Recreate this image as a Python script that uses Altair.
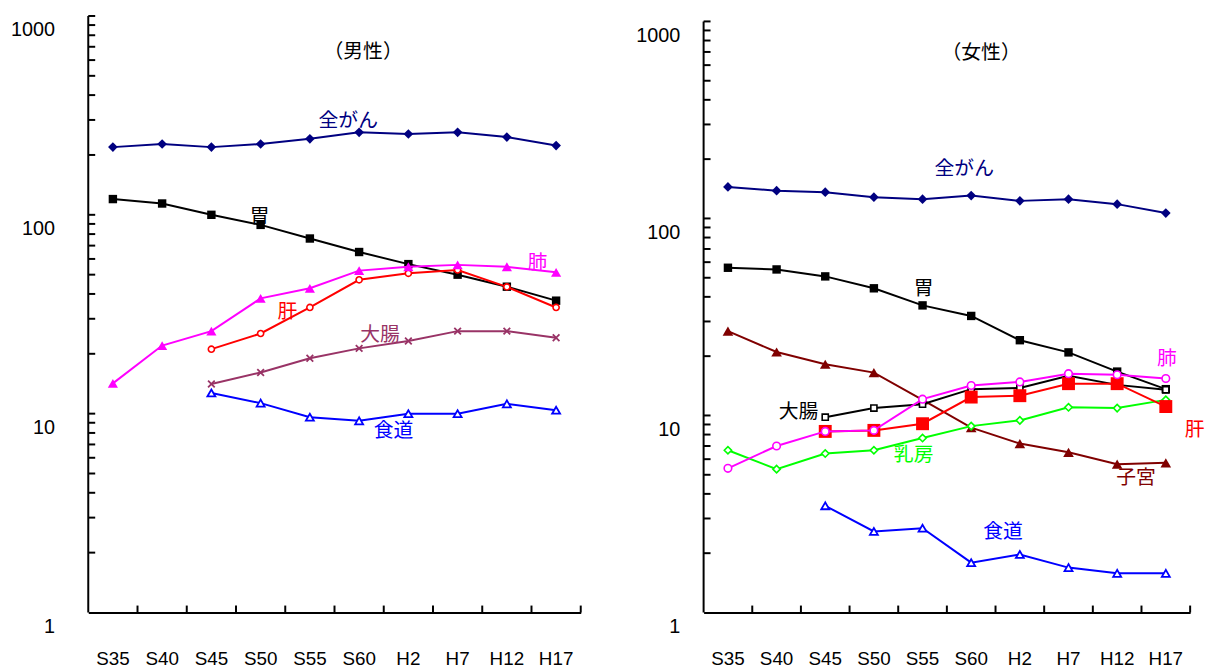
import altair as alt
import pandas as pd

cats = ["S35", "S40", "S45", "S50", "S55", "S60", "H2", "H7", "H12", "H17"]

# ---- male series (age-adjusted mortality, log scale) ----
m_all = [219, 227, 219, 227, 241, 260, 255, 260, 246, 223]
m_stomach = [120, 114, 100, 89, 76, 65, 56.5, 50, 43.5, 37]
m_lung = [14.2, 22, 26, 38, 42.7, 52.4, 54.8, 56, 54.8, 51.4]
m_liver = [None, None, 21.1, 25.3, 34.2, 47.1, 50.8, 52.8, 43.4, 34.2]
m_colon = [None, None, 14.1, 16.1, 19.0, 21.3, 23.2, 26.0, 26.0, 24.1]
m_esoph = [None, None, 12.7, 11.3, 9.6, 9.2, 10.0, 10.0, 11.2, 10.4]

# ---- female series ----
f_all = [144.5, 138.4, 135.9, 128.2, 125.3, 130.6, 122.8, 125.3, 118.2, 106.5]
f_stomach = [56.2, 55.1, 50.8, 44.2, 36.2, 32.0, 24.1, 20.9, 16.7, 13.6]
f_uterus = [26.8, 21.0, 18.2, 16.5, 12.0, 8.67, 7.2, 6.5, 5.66, 5.75]
f_colon = [None, None, 9.8, 10.9, 11.4, 13.6, 13.8, 15.9, 14.3, 13.5]
f_lung = [5.39, 7.0, 8.3, 8.4, 12.1, 14.2, 14.8, 16.3, 16.1, 15.4]
f_liver = [None, None, 8.3, 8.4, 9.08, 12.4, 12.6, 14.5, 14.5, 11.1]
f_breast = [6.66, 5.34, 6.41, 6.66, 7.68, 8.83, 9.44, 11.0, 10.9, 12.0]
f_esoph = [None, None, 3.48, 2.58, 2.68, 1.79, 1.97, 1.69, 1.58, 1.58]

# ---- annotation labels (text, anchor category, anchor value) ----
m_label_text = ["（男性）", "全がん", "胃", "肺", "肝", "大腸", "食道"]
m_label_cat = ["S60", "S60", "S50", "H17", "S50", "S60", "H2"]
m_label_val = [661, 296, 97.3, 57.1, 32.6, 24.8, 8.16]

f_label_text = ["（女性）", "全がん", "胃", "肺", "大腸", "乳房", "肝", "子宮", "食道"]
f_label_cat = ["S60", "S60", "S55", "H17", "S45", "S55", "H17", "H12", "H2"]
f_label_val = [694, 178.7, 44.0, 19.3, 10.4, 6.29, 8.4, 4.8, 2.56]

y_tick_values = [v * d for d in (1, 10, 100) for v in range(2, 10)] + [10, 100, 1000]
y_label_values = [1, 10, 100, 1000]
y_axis_span = [1, 1000]

NAVY = "#000080"
MAG = "#FF00FF"
RED = "#FF0000"
PURPLE = "#993366"
BLUE = "#0000FF"
DRED = "#800000"
GREEN = "#00FF00"
XPATH = "M-1,-1L1,1M-1,1L1,-1"

LATIN = "Liberation Sans"
CJK = "Noto Sans CJK JP"


def make_panel(series, lab_text, lab_cat, lab_val, lab_styles, width, height,
               ylabpad, ymax):
    xscale = alt.Scale(type="band", domain=cats, paddingInner=0, paddingOuter=0)
    yscale = alt.Scale(type="log", domain=[1, ymax], nice=False)
    xaxis = alt.Axis(title=None, labelAngle=0, ticks=False, grid=False,
                     domainColor="black", domainWidth=2, labelFontSize=19,
                     labelFont=LATIN, labelColor="black", labelPadding=37)
    yaxis = alt.Axis(title=None, values=y_label_values, format="d", ticks=False,
                     grid=False, domain=False,
                     labelFontSize=20, labelFont=LATIN, labelColor="black",
                     labelPadding=ylabpad, labelOffset=14)

    def X(band=0.5):
        return alt.X("cat:N", sort=cats, scale=xscale, axis=xaxis, bandPosition=band)

    def Y(field="v"):
        return alt.Y(f"{field}:Q", scale=yscale, axis=yaxis)

    layers = []
    # y axis line spanning 1..1000
    adf = pd.DataFrame({"a": [y_axis_span[0]], "b": [y_axis_span[1]]})
    layers.append(alt.Chart(adf).mark_rule(color="black", strokeWidth=2).encode(
        y=Y("a"), y2="b:Q", x=alt.value(0)))
    # inward y ticks
    tdf = pd.DataFrame({"t": y_tick_values})
    layers.append(alt.Chart(tdf).mark_rule(color="black", strokeWidth=2).encode(
        y=Y("t"), x=alt.value(0), x2=alt.value(7)))
    # inward x ticks at category boundaries
    xdf = pd.DataFrame({"cat": cats})
    layers.append(alt.Chart(xdf).mark_rule(color="black", strokeWidth=2).encode(
        x=X(1.0), y=alt.value(height - 7), y2=alt.value(height)))

    for vals, color, shape, filled, size, sw in series:
        df = pd.DataFrame({"cat": cats, "v": vals}).dropna()
        base = alt.Chart(df)
        layers.append(base.mark_line(color=color, strokeWidth=2).encode(x=X(), y=Y()))
        if filled:
            pt = base.mark_point(shape=shape, filled=True, color=color, opacity=1,
                                 size=size, strokeWidth=0)
        else:
            pt = base.mark_point(shape=shape, filled=False, fill="white", fillOpacity=1,
                                 stroke=color, opacity=1, size=size, strokeWidth=sw)
        layers.append(pt.encode(x=X(), y=Y()))

    for i, (t, c, v) in enumerate(zip(lab_text, lab_cat, lab_val)):
        color, dx, fs = lab_styles[i]
        ldf = pd.DataFrame({"cat": [c], "v": [v], "txt": [t]})
        layers.append(alt.Chart(ldf).mark_text(
            font=CJK, fontSize=fs, color=color, dx=dx, align="center", baseline="middle"
        ).encode(x=X(), y=Y(), text="txt:N"))

    return alt.layer(*layers).properties(width=width, height=height)


male_series = [
    (m_all, NAVY, "diamond", True, 95, 0),
    (m_stomach, "black", "square", True, 72, 0),
    (m_colon, PURPLE, XPATH, False, 45, 1.8),
    (m_esoph, BLUE, "triangle-up", False, 65, 1.8),
    (m_liver, RED, "circle", False, 38, 1.6),
    (m_lung, MAG, "triangle-up", True, 105, 0),
]
male_styles = [
    ("black", 4, 20), (NAVY, -11, 20), ("black", -1, 20), (MAG, -19, 20),
    (RED, 27, 20), (PURPLE, 21, 20), (BLUE, -15, 20),
]

female_series = [
    (f_all, NAVY, "diamond", True, 95, 0),
    (f_stomach, "black", "square", True, 72, 0),
    (f_uterus, DRED, "triangle-up", True, 115, 0),
    (f_esoph, BLUE, "triangle-up", False, 65, 1.8),
    (f_breast, GREEN, "diamond", False, 55, 1.6),
    (f_colon, "black", "square", False, 38, 1.6),
    (f_liver, RED, "square", True, 170, 0),
    (f_lung, MAG, "circle", False, 58, 1.6),
]
female_styles = [
    ("black", 10, 20), (NAVY, -7, 20), ("black", 1, 20), (MAG, 1, 20),
    ("black", -27, 20), (GREEN, -9, 20), (RED, 29, 20), (DRED, 19, 20), (BLUE, -17, 20),
]

left = make_panel(male_series, m_label_text, m_label_cat, m_label_val, male_styles,
                  497, 602, 34, 1000)
right = make_panel(female_series, f_label_text, f_label_cat, f_label_val, female_styles,
                   491, 602, 24, 1065.8)

chart = alt.hconcat(left, right, spacing=54).properties(
    padding={"left": 2, "top": 4, "right": 0, "bottom": 0}
).configure_view(stroke=None)

chart.save("out.html", embed_options={"renderer": "svg", "actions": False})
